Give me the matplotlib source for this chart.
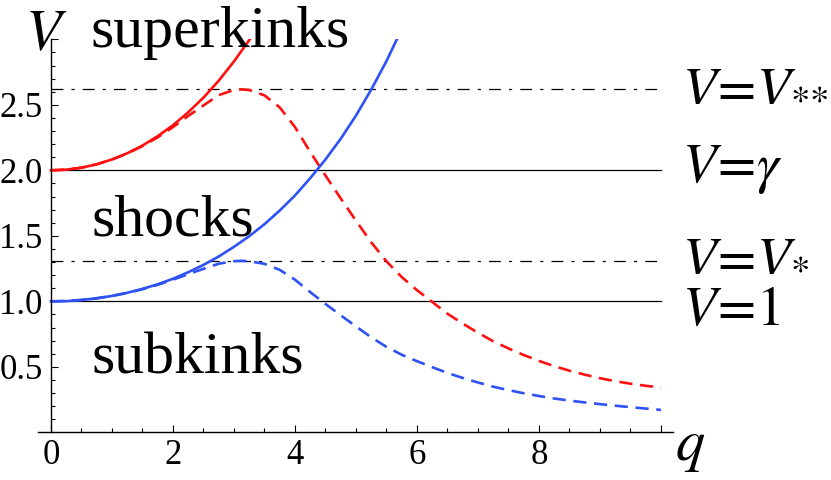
import matplotlib
matplotlib.use("Agg")
import matplotlib.pyplot as plt
from matplotlib.ticker import MultipleLocator, FixedLocator

plt.rcParams['font.family'] = ['Liberation Serif', 'DejaVu Serif']
plt.rcParams['mathtext.fontset'] = 'stix'

# Critical velocities (horizontal reference lines)
V_one = 1.0
V_star = 1.309
V_gamma = 2.0
V_2star = 2.618

# Solid curves
q_red = [0, 0.25, 0.5, 0.75, 1.0, 1.25, 1.5, 1.75, 2.0, 2.25, 2.5, 2.75, 3.0, 3.25, 3.27]
V_red = [2.0, 2.005, 2.02, 2.046, 2.083, 2.13, 2.189, 2.261, 2.344, 2.443, 2.555, 2.684, 2.831, 2.994, 3.01]

q_blue = [0, 0.25, 0.5, 0.75, 1.0, 1.25, 1.5, 1.75, 2.0, 2.25, 2.5, 2.75, 3.0, 3.25, 3.5,
          3.75, 4.0, 4.25, 4.5, 4.75, 5.0, 5.25, 5.5, 5.68]
V_blue = [1.0, 1.001, 1.01, 1.023, 1.041, 1.065, 1.095, 1.13, 1.172, 1.222, 1.278, 1.342, 1.416, 1.497, 1.589,
          1.693, 1.808, 1.94, 2.083, 2.241, 2.418, 2.616, 2.834, 3.01]

# Dashed curves
q_dash = [0, 0.25, 0.5, 0.75, 1.0, 1.25, 1.5, 1.75, 2.0, 2.25, 2.5, 2.75, 3.0, 3.12, 3.25, 3.5,
          3.75, 4.0, 4.25, 4.5, 4.75, 5.0, 5.25, 5.5, 5.75, 6.0, 6.25, 6.5, 6.75, 7.0, 7.25, 7.5,
          7.75, 8.0, 8.25, 8.5, 8.75, 9.0, 9.25, 9.5, 9.75, 10.0]
V_red_dash = [2.0, 2.005, 2.02, 2.046, 2.082, 2.128, 2.185, 2.252, 2.33, 2.415, 2.495, 2.574, 2.613, 2.618, 2.613, 2.572,
              2.48, 2.33, 2.14, 1.96, 1.785, 1.615, 1.45, 1.305, 1.185, 1.085, 0.995, 0.905, 0.83, 0.76, 0.695, 0.64,
              0.59, 0.545, 0.505, 0.47, 0.44, 0.413, 0.39, 0.371, 0.355, 0.342]
V_blue_dash = [1.0, 1.0025, 1.01, 1.023, 1.041, 1.064, 1.092, 1.126, 1.165, 1.207, 1.248, 1.287, 1.306, 1.309, 1.306, 1.286,
               1.24, 1.165, 1.07, 0.98, 0.893, 0.808, 0.725, 0.652, 0.592, 0.543, 0.497, 0.453, 0.415, 0.38, 0.348, 0.322,
               0.298, 0.277, 0.258, 0.242, 0.228, 0.215, 0.203, 0.192, 0.181, 0.171]

y_ticks = [0.5, 1.0, 1.5, 2.0, 2.5, 3.0]
y_labels = ["0.5", "1.0", "1.5", "2.0", "2.5", ""]
x_ticks = [0, 2, 4, 6, 8, 10]
x_labels = ["0", "2", "4", "6", "8", ""]

red = '#ff1010'
blue = '#2e52f6'

fig = plt.figure(figsize=(8.31, 4.8), dpi=100)
ax = fig.add_axes([38/831, 47.7/480, 635/831, 393/480])

# reference lines
for v in [V_one, V_gamma]:
    ax.plot([0, 10], [v, v], color='black', lw=0.9)
for v in [V_star, V_2star]:
    ax.plot([0, 10], [v, v], color='black', lw=0.9, linestyle=(0, (9.5, 6.5, 2.5, 6.5)))

ax.plot(q_red, V_red, color=red, lw=1.9)
ax.plot(q_dash, V_red_dash, color=red, lw=1.9, linestyle=(0, (5.0, 2.9)))
ax.plot(q_blue, V_blue, color=blue, lw=1.9)
ax.plot(q_dash, V_blue_dash, color=blue, lw=1.9, linestyle=(0, (5.0, 2.9)))

ax.set_xlim(-0.213, 10.197)
ax.set_ylim(0, 3)

# axes through the origin, Mathematica style
ax.spines['top'].set_visible(False)
ax.spines['right'].set_visible(False)
ax.spines['left'].set_position(('data', 0))
ax.spines['bottom'].set_position(('data', 0))
ax.spines['left'].set_linewidth(1.0)
ax.spines['bottom'].set_linewidth(1.0)

ax.xaxis.set_major_locator(FixedLocator(x_ticks))
ax.set_xticklabels(x_labels)
ax.xaxis.set_minor_locator(MultipleLocator(0.5))
ax.yaxis.set_major_locator(FixedLocator(y_ticks))
ax.set_yticklabels(y_labels)
ax.yaxis.set_minor_locator(MultipleLocator(0.1))
ax.tick_params(which='major', direction='in', length=5.3, width=0.8, labelsize=25, pad=5)
ax.tick_params(which='minor', direction='in', length=3.0, width=0.8)
ax.tick_params(axis='y', which='major', pad=6)

# axis labels
ax.text(-0.43, 2.918, r'$V$', fontsize=42, ha='left', va='baseline', clip_on=False)
ax.text(10.23, -0.21, r'$q$', fontsize=42, ha='left', va='baseline', clip_on=False)

# region labels
ax.text(0.64, 2.943, 'superkinks', fontsize=43, ha='left', va='baseline')
ax.text(0.67, 1.506, 'shocks', fontsize=43, ha='left', va='baseline')
ax.text(0.656, 0.45, 'subkinks', fontsize=43, ha='left', va='baseline')

# line labels on the right
ax.text(10.34, 2.537, r'$V\!=\!V_{{*}{*}}$', fontsize=40, ha='left', va='baseline', clip_on=False)
ax.text(10.34, 1.911, r'$V\!=\!\gamma$', fontsize=40, ha='left', va='baseline', clip_on=False)
ax.text(10.34, 1.239, r'$V\!=\!V_{{*}}$', fontsize=40, ha='left', va='baseline', clip_on=False)
ax.text(10.34, 0.819, r'$V\!=\!1$', fontsize=40, ha='left', va='baseline', clip_on=False)

fig.savefig("out.png", dpi=100)
